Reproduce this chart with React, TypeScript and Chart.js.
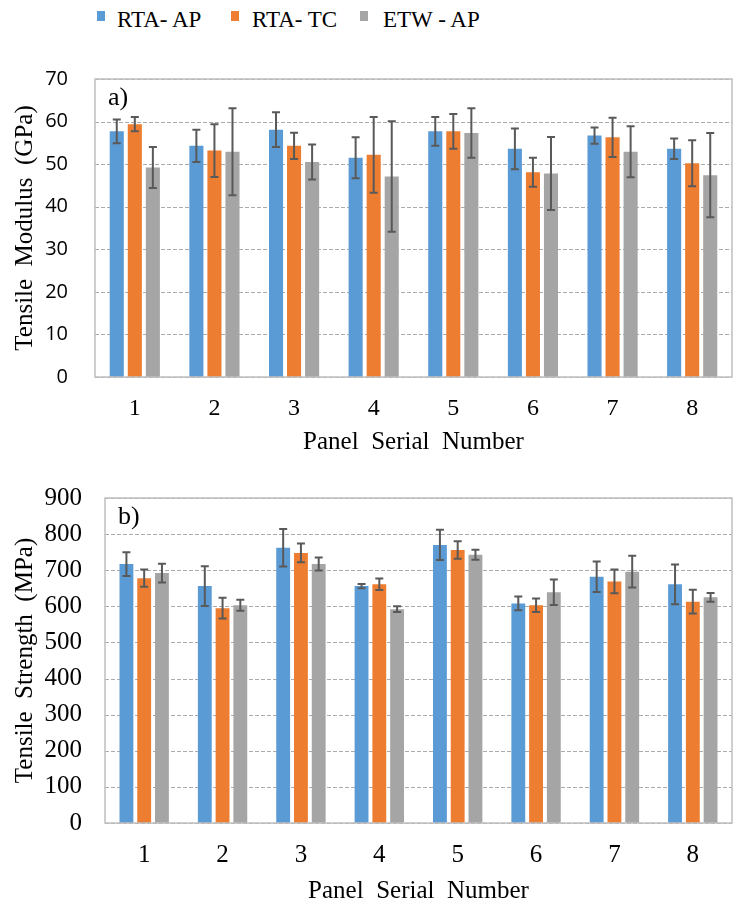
import React, { useEffect, useRef } from "react";
import { Chart, registerables } from "chart.js";

Chart.register(...registerables);

const categories = ["1", "2", "3", "4", "5", "6", "7", "8"];
const seriesNames = ["RTA- AP", "RTA- TC", "ETW - AP"];
const seriesColors = ["#5B9BD5", "#ED7D31", "#A5A5A5"];

// a) Tensile Modulus (GPa)
const modulusRtaAp = [57.7, 54.3, 58.1, 51.5, 57.7, 53.6, 56.7, 53.6];
const modulusRtaTc = [59.4, 53.2, 54.3, 52.2, 57.7, 48.1, 56.3, 50.2];
const modulusEtwAp = [49.2, 52.9, 50.5, 47.1, 57.3, 47.8, 52.9, 47.4];
const modulusErrRtaAp = [2.8, 3.8, 4.1, 4.8, 3.4, 4.8, 1.9, 2.4];
const modulusErrRtaTc = [1.7, 6.2, 3.1, 8.9, 4.1, 3.4, 4.6, 5.4];
const modulusErrEtwAp = [4.8, 10.2, 4.1, 13.0, 5.8, 8.6, 6.0, 9.9];

// b) Tensile Strength (MPa)
const strengthRtaAp = [717, 656, 762, 656, 770, 608, 682, 661];
const strengthRtaTc = [678, 595, 748, 661, 756, 603, 669, 613];
const strengthEtwAp = [692, 603, 717, 592, 743, 639, 696, 625];
const strengthErrRtaAp = [33, 55, 52, 6, 42, 19, 42, 55];
const strengthErrRtaTc = [24, 29, 26, 16, 24, 19, 33, 33];
const strengthErrEtwAp = [26, 15, 18, 8, 14, 35, 44, 12];

const SERIF = "'Liberation Serif', 'Times New Roman', serif";
const SANS = "'Open Sans', sans-serif";

const dashedGridPlugin = {
  id: "dashedGrid",
  beforeDatasetsDraw(chart: any) {
    const { ctx, chartArea } = chart;
    const yScale = chart.scales.y;
    ctx.save();
    ctx.strokeStyle = "#ABABAB";
    ctx.lineWidth = 1;
    ctx.setLineDash([4, 2]);
    yScale.ticks.forEach((t: any) => {
      const y = Math.round(yScale.getPixelForValue(t.value)) + 0.5;
      ctx.beginPath();
      ctx.moveTo(chartArea.left, y);
      ctx.lineTo(chartArea.right, y);
      ctx.stroke();
    });
    ctx.restore();
  },
};

const errorBarPlugin = {
  id: "errorBars",
  afterDatasetsDraw(chart: any) {
    const ctx = chart.ctx;
    const yScale = chart.scales.y;
    ctx.save();
    ctx.strokeStyle = "#595959";
    ctx.lineWidth = 2;
    chart.data.datasets.forEach((ds: any, di: number) => {
      const meta = chart.getDatasetMeta(di);
      meta.data.forEach((bar: any, i: number) => {
        const v = ds.data[i];
        const e = ds.errors[i];
        const yTop = yScale.getPixelForValue(v + e);
        const yBot = yScale.getPixelForValue(v - e);
        const x = bar.x;
        const cap = 4;
        ctx.beginPath();
        ctx.moveTo(x, yTop);
        ctx.lineTo(x, yBot);
        ctx.moveTo(x - cap, yTop);
        ctx.lineTo(x + cap, yTop);
        ctx.moveTo(x - cap, yBot);
        ctx.lineTo(x + cap, yBot);
        ctx.stroke();
      });
    });
    ctx.restore();
  },
};

const frameAndTagPlugin = {
  id: "frameAndTag",
  afterDraw(chart: any) {
    const { ctx, chartArea } = chart;
    const opts = chart.options.plugins.frameAndTag || {};
    ctx.save();
    ctx.strokeStyle = "#BFBFBF";
    ctx.lineWidth = 1.5;
    ctx.strokeRect(chartArea.left, chartArea.top, chartArea.right - chartArea.left, chartArea.bottom - chartArea.top);
    if (opts.tag) {
      ctx.fillStyle = "#000";
      ctx.font = `26px ${SERIF}`;
      ctx.textAlign = "left";
      ctx.textBaseline = "middle";
      ctx.fillText(opts.tag, chartArea.left + 13, chartArea.top + 19);
    }
    ctx.restore();
  },
};

function makeConfig(p: any) {
  return {
    type: "bar",
    data: {
      labels: categories,
      datasets: p.values.map((vals: number[], i: number) => ({
        label: seriesNames[i],
        data: vals,
        errors: p.errors[i],
        backgroundColor: seriesColors[i],
        borderWidth: 0,
        categoryPercentage: 0.68,
        barPercentage: 0.78,
      })),
    },
    options: {
      responsive: false,
      animation: false,
      devicePixelRatio: 1,
      layout: { padding: { top: p.padTop, right: 3, left: 0, bottom: 0 } },
      plugins: {
        legend: { display: false },
        tooltip: { enabled: false },
        frameAndTag: { tag: p.tag },
      },
      scales: {
        x: {
          grid: { display: false, drawTicks: false },
          border: { display: false },
          ticks: { color: "#000", font: { family: SERIF, size: p.xTickSize }, padding: p.xTickPad },
          title: {
            display: true,
            text: "Panel  Serial  Number",
            color: "#000",
            font: { family: SERIF, size: 25 },
            padding: { top: 0, bottom: 3 },
          },
          afterFit(scale: any) {
            scale.height = p.xHeight;
          },
        },
        y: {
          min: 0,
          max: p.max,
          grid: { display: false, drawTicks: false },
          border: { display: false },
          ticks: {
            stepSize: p.step,
            color: "#000",
            font: { family: p.yTickFamily, size: p.yTickSize },
            padding: p.yTickPad,
          },
          title: {
            display: true,
            text: p.yTitle,
            color: "#000",
            font: { family: SERIF, size: 25 },
            padding: { top: 10, bottom: 0 },
          },
          afterFit(scale: any) {
            scale.width = p.yWidth;
          },
        },
      },
    },
    plugins: [dashedGridPlugin, errorBarPlugin, frameAndTagPlugin],
  };
}

function BarPanel(props: { p: any; top: number; height: number }) {
  const ref = useRef<HTMLCanvasElement | null>(null);
  useEffect(() => {
    if (!ref.current) return;
    const chart = new Chart(ref.current, makeConfig(props.p) as any);
    return () => chart.destroy();
  }, []);
  return (
    <canvas
      ref={ref}
      width={735}
      height={props.height}
      style={{ position: "absolute", left: 0, top: props.top, width: 735, height: props.height }}
    />
  );
}

const modulusPanel = {
  values: [modulusRtaAp, modulusRtaTc, modulusEtwAp],
  errors: [modulusErrRtaAp, modulusErrRtaTc, modulusErrEtwAp],
  max: 70,
  step: 10,
  tag: "a)",
  yTitle: "Tensile  Modulus  (GPa)",
  yTickFamily: SANS,
  yTickSize: 20,
  yTickPad: 27,
  yWidth: 95,
  xTickSize: 24,
  xTickPad: 17,
  xHeight: 83,
  padTop: 6,
};

const strengthPanel = {
  values: [strengthRtaAp, strengthRtaTc, strengthEtwAp],
  errors: [strengthErrRtaAp, strengthErrRtaTc, strengthErrEtwAp],
  max: 900,
  step: 100,
  tag: "b)",
  yTitle: "Tensile  Strength  (MPa)",
  yTickFamily: SERIF,
  yTickSize: 25,
  yTickPad: 23,
  yWidth: 105,
  xTickSize: 25,
  xTickPad: 17,
  xHeight: 86,
  padTop: 32,
};

const legendPos = [
  { box: 97, text: 117 },
  { box: 231, text: 252 },
  { box: 360, text: 383 },
];

export default function App() {
  return (
    <div style={{ position: "absolute", left: 0, top: 0, width: 735, height: 909, background: "#fff", overflow: "hidden" }}>
      {seriesNames.map((name, i) => (
        <React.Fragment key={name}>
          <div
            style={{
              position: "absolute",
              left: legendPos[i].box,
              top: 11,
              width: 8,
              height: 10,
              background: seriesColors[i],
            }}
          />
          <div
            style={{
              position: "absolute",
              left: legendPos[i].text,
              top: 8,
              fontFamily: SERIF,
              fontSize: 23,
              lineHeight: "23px",
              whiteSpace: "pre",
              color: "#000",
            }}
          >
            {name}
          </div>
        </React.Fragment>
      ))}
      <BarPanel p={modulusPanel} top={40} height={420} />
      <BarPanel p={strengthPanel} top={460} height={449} />
    </div>
  );
}
